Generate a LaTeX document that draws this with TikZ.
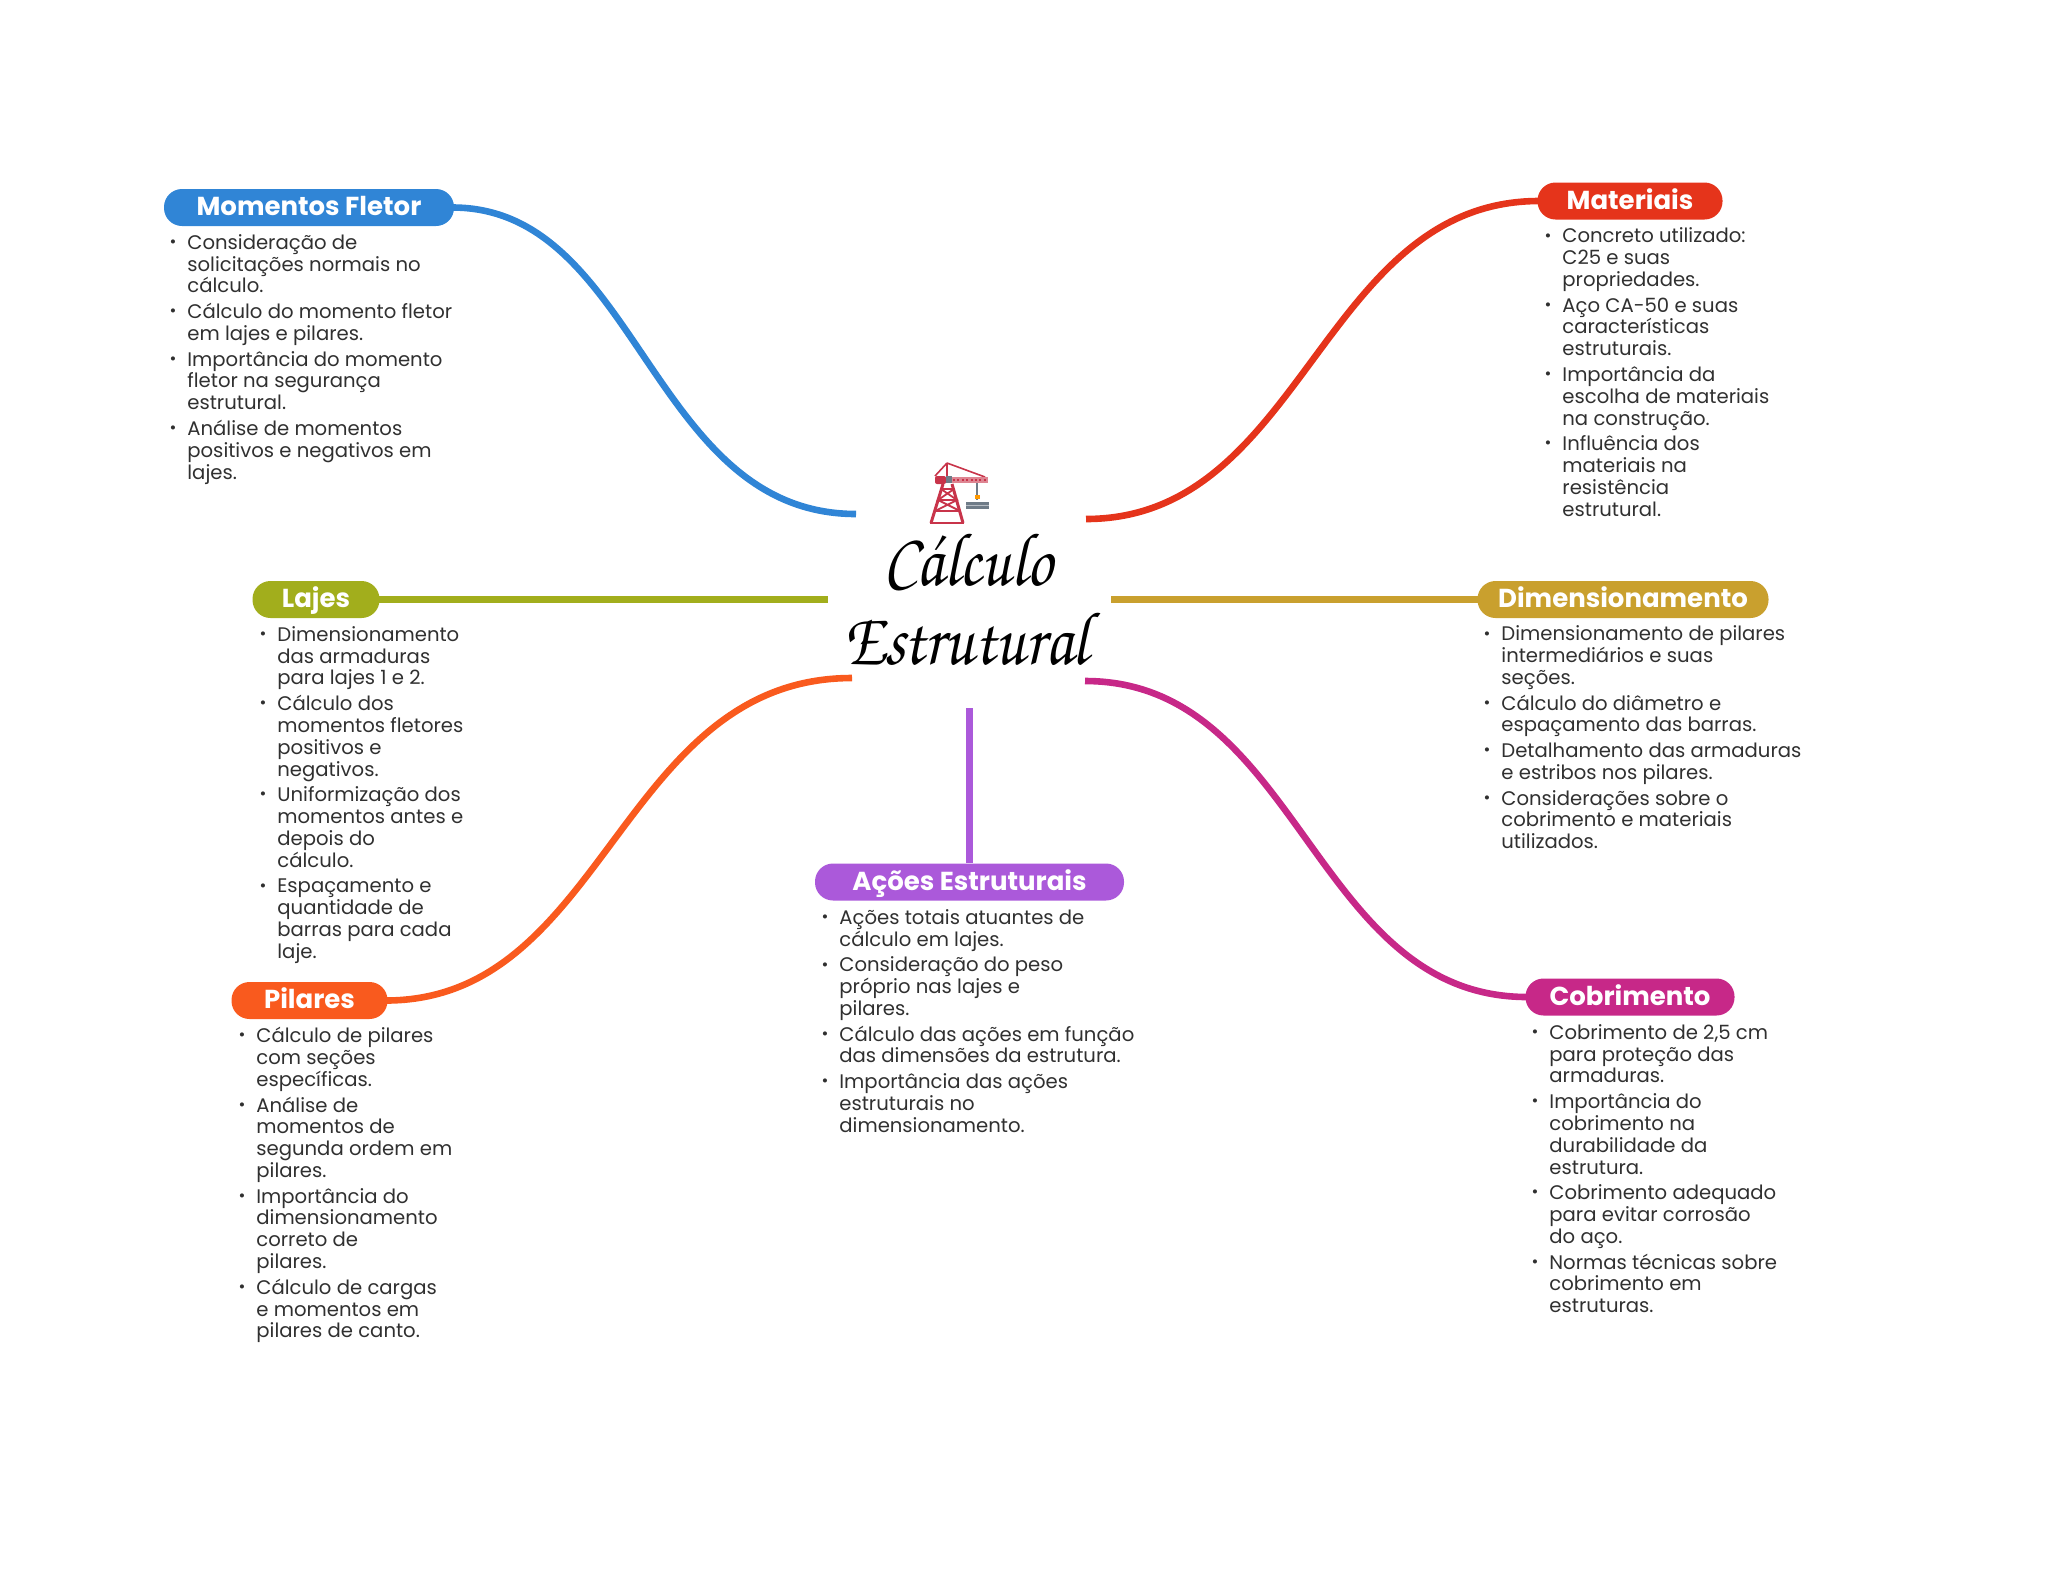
\documentclass[tikz,border=0pt]{standalone}
\usepackage{fontspec}
\setmainfont{Poppins}
\newfontfamily\scriptf{TeX Gyre Chorus}
\definecolor{cMom}{HTML}{3085D6}
\definecolor{cMat}{HTML}{E5341B}
\definecolor{cLaj}{HTML}{A2AE1C}
\definecolor{cDim}{HTML}{C9A02E}
\definecolor{cPil}{HTML}{F95A1E}
\definecolor{cAco}{HTML}{AB59DA}
\definecolor{cCob}{HTML}{C72888}
\definecolor{cTxt}{HTML}{303030}
\definecolor{cCrane}{HTML}{C8344A}
\definecolor{cBeam}{HTML}{6F7C88}
\newcommand{\itm}[1]{\llap{\raisebox{.9pt}{\scalebox{.85}{•}}\hspace{5.4pt}}#1}
\tikzset{
 x=.5pt,y=-.5pt,
 pill/.style={rounded corners=9pt,font=\fontsize{13}{15}\selectfont\bfseries,text=white,inner sep=0pt,text height=10.8pt,text depth=2.6pt,minimum height=18.5pt,anchor=center},
 body/.style={anchor=north west,align=left,inner sep=0pt,text=cTxt,font=\fontsize{9.82}{10.9}\selectfont},
 conn/.style={line width=3.3pt,line cap=butt},
 titlef/.style={font=\scriptf\itshape\fontsize{36}{38}\selectfont,text=black},
 crane/.style={draw=cCrane,line width=1pt}
}
\newcommand{\gp}{\\[1.95pt]}
\begin{document}
\begin{tikzpicture}
\useasboundingbox (0,0) rectangle (2048,1569);
% pills
\node[pill,fill=cMom,minimum width=145pt] (mom) at (309,207.5) {Momentos Fletor};
\node[pill,fill=cMat,minimum width=92.5pt] (mat) at (1630,201) {Materiais};
\node[pill,fill=cLaj,minimum width=63.5pt] (laj) at (316,599.5) {Lajes};
\node[pill,fill=cDim,minimum width=145.5pt] (dim) at (1623,599.5) {Dimensionamento};
\node[pill,fill=cPil,minimum width=78pt] (pil) at (309.5,1000.5) {Pilares};
\node[pill,fill=cAco,minimum width=154.5pt] (aco) at (969.5,882) {Ações Estruturais};
\node[pill,fill=cCob,minimum width=104.5pt] (cob) at (1630,997) {Cobrimento};
% free ends
\coordinate (eMom) at (856,514);
\coordinate (eMat) at (1086,519);
\coordinate (eLaj) at (828,599.5);
\coordinate (eDim) at (1111,599.5);
\coordinate (ePil) at (852,678);
\coordinate (eCob) at (1085,681);
\coordinate (eAco) at (969.5,708);
% connectors
\draw[conn,cMom] ([xshift=-1pt]mom.east) .. controls +(186,0) and +(-206,0) .. (eMom);
\draw[conn,cMat] ([xshift=1pt]mat.west) .. controls +(-218,0) and +(218,0) .. (eMat);
\draw[conn,cLaj] ([xshift=-1pt]laj.east) -- (eLaj);
\draw[conn,cDim] ([xshift=1pt]dim.west) -- (eDim);
\draw[conn,cPil] ([xshift=-1pt]pil.east) .. controls +(220,0) and +(-232,0) .. (ePil);
\draw[conn,cCob] ([xshift=1pt]cob.west) .. controls +(-215,0) and +(215,0) .. (eCob);
\draw[conn,cAco] (aco.north) -- (eAco);
% bodies
\node[body] (tMom) at (187,234) {\itm{Consideração de}\\solicitações normais no\\cálculo.\gp
\itm{Cálculo do momento fletor}\\em lajes e pilares.\gp
\itm{Importância do momento}\\fletor na segurança\\estrutural.\gp
\itm{Análise de momentos}\\positivos e negativos em\\lajes.};
\node[body] (tMat) at (1562,227.5) {\itm{Concreto utilizado:}\\C25 e suas\\propriedades.\gp
\itm{Aço CA-50 e suas}\\características\\estruturais.\gp
\itm{Importância da}\\escolha de materiais\\na construção.\gp
\itm{Influência dos}\\materiais na\\resistência\\estrutural.};
\node[body] (tLaj) at (277,626) {\itm{Dimensionamento}\\das armaduras\\para lajes 1 e 2.\gp
\itm{Cálculo dos}\\momentos fletores\\positivos e\\negativos.\gp
\itm{Uniformização dos}\\momentos antes e\\depois do\\cálculo.\gp
\itm{Espaçamento e}\\quantidade de\\barras para cada\\laje.};
\node[body] (tDim) at (1501,625.5) {\itm{Dimensionamento de pilares}\\intermediários e suas\\seções.\gp
\itm{Cálculo do diâmetro e}\\espaçamento das barras.\gp
\itm{Detalhamento das armaduras}\\e estribos nos pilares.\gp
\itm{Considerações sobre o}\\cobrimento e materiais\\utilizados.};
\node[body] (tPil) at (256,1027) {\itm{Cálculo de pilares}\\com seções\\específicas.\gp
\itm{Análise de}\\momentos de\\segunda ordem em\\pilares.\gp
\itm{Importância do}\\dimensionamento\\correto de\\pilares.\gp
\itm{Cálculo de cargas}\\e momentos em\\pilares de canto.};
\node[body] (tAco) at (839,909) {\itm{Ações totais atuantes de}\\cálculo em lajes.\gp
\itm{Consideração do peso}\\próprio nas lajes e\\pilares.\gp
\itm{Cálculo das ações em função}\\das dimensões da estrutura.\gp
\itm{Importância das ações}\\estruturais no\\dimensionamento.};
\node[body] (tCob) at (1549,1024) {\itm{Cobrimento de 2,5 cm}\\para proteção das\\armaduras.\gp
\itm{Importância do}\\cobrimento na\\durabilidade da\\estrutura.\gp
\itm{Cobrimento adequado}\\para evitar corrosão\\do aço.\gp
\itm{Normas técnicas sobre}\\cobrimento em\\estruturas.};
% title
\node[titlef] (t1) at (968,563) {\scalebox{.9}[1.05]{Cálculo}};
\node[titlef] (t2) at (966,639) {\scalebox{.91}[1.05]{Estrutural}};
% crane: jib, cables, hoist and beam
\draw[crane,line width=.8pt] (947,463) -- (985,477) (947,463) -- (935,476);
\draw[crane,line width=1.3pt] (947,463) -- (947,478);
\draw[cCrane!60,line width=2.8pt] (945,480) -- (988,480);
\draw[cCrane,line width=.7pt,dash pattern=on 1pt off 1.2pt] (953,480) -- (987,480);
\fill[cCrane,rounded corners=1pt] (935,476) rectangle (946,484);
\fill[cBeam] (946,476) rectangle (952,483);
\draw[cBeam,line width=.9pt] (977,483) -- (977,500);
\fill[orange!80!yellow] (974.5,495) rectangle (979.5,498.5);
\fill[cBeam] (966,502) rectangle (989,509);
\fill[cBeam!50] (966,504.5) rectangle (989,506);
% crane: tower
\draw[crane,line width=1.5pt] (931,523) -- (943,484) (963,523) -- (952,484);
\draw[crane,line width=.9pt] (938,500) -- (957,500) (935,511) -- (960,511) (941,489) -- (954,489);
\draw[crane,line width=.9pt] (941,489) -- (957,500) -- (935,511) (954,489) -- (938,500) -- (960,511);
\draw[crane,line width=1.2pt] (930,523) -- (964,523);
\end{tikzpicture}
\end{document}
